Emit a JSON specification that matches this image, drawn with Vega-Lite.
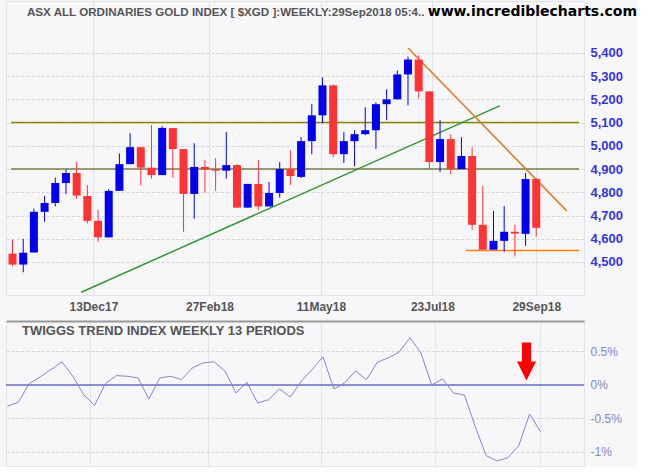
{
  "$schema": "https://vega.github.io/schema/vega-lite/v6.json",
  "background": "#f7f7f9",
  "padding": {"left": 4, "top": 0, "right": 0, "bottom": 0},
  "autosize": {"type": "pad"},
  "spacing": 7,
  "datasets": {
    "w": [
      {"d": "2017-10-21", "o": 4536, "h": 4596, "l": 4481, "c": 4489, "t": -0.32},
      {"d": "2017-10-28", "o": 4489, "h": 4600, "l": 4456, "c": 4540, "t": -0.255},
      {"d": "2017-11-04", "o": 4541, "h": 4729, "l": 4541, "c": 4716, "t": 0.02},
      {"d": "2017-11-11", "o": 4716, "h": 4784, "l": 4673, "c": 4754, "t": 0.12},
      {"d": "2017-11-18", "o": 4754, "h": 4863, "l": 4739, "c": 4840, "t": 0.23},
      {"d": "2017-11-25", "o": 4840, "h": 4897, "l": 4793, "c": 4883, "t": 0.345},
      {"d": "2017-12-02", "o": 4883, "h": 4930, "l": 4771, "c": 4786, "t": 0.13},
      {"d": "2017-12-09", "o": 4784, "h": 4831, "l": 4666, "c": 4677, "t": -0.145},
      {"d": "2017-12-16", "o": 4677, "h": 4724, "l": 4587, "c": 4606, "t": -0.305},
      {"d": "2017-12-23", "o": 4606, "h": 4814, "l": 4606, "c": 4806, "t": 0.02},
      {"d": "2017-12-30", "o": 4806, "h": 4967, "l": 4806, "c": 4921, "t": 0.14},
      {"d": "2018-01-06", "o": 4921, "h": 5054, "l": 4921, "c": 4994, "t": 0.13},
      {"d": "2018-01-13", "o": 4994, "h": 4994, "l": 4829, "c": 4906, "t": 0.105},
      {"d": "2018-01-20", "o": 4906, "h": 5089, "l": 4859, "c": 4874, "t": -0.21},
      {"d": "2018-01-27", "o": 4874, "h": 5084, "l": 4874, "c": 5077, "t": 0.105},
      {"d": "2018-02-03", "o": 5076, "h": 5076, "l": 4863, "c": 4986, "t": 0.13},
      {"d": "2018-02-10", "o": 4986, "h": 4986, "l": 4630, "c": 4793, "t": 0.08},
      {"d": "2018-02-17", "o": 4793, "h": 5011, "l": 4686, "c": 4909, "t": 0.255},
      {"d": "2018-02-24", "o": 4909, "h": 4940, "l": 4799, "c": 4899, "t": 0.33},
      {"d": "2018-03-03", "o": 4899, "h": 4947, "l": 4806, "c": 4893, "t": 0.345},
      {"d": "2018-03-10", "o": 4893, "h": 5059, "l": 4859, "c": 4917, "t": 0.205},
      {"d": "2018-03-17", "o": 4917, "h": 4921, "l": 4734, "c": 4734, "t": -0.12},
      {"d": "2018-03-24", "o": 4734, "h": 4836, "l": 4734, "c": 4836, "t": 0.04},
      {"d": "2018-03-31", "o": 4836, "h": 4939, "l": 4724, "c": 4739, "t": -0.27},
      {"d": "2018-04-07", "o": 4739, "h": 4844, "l": 4739, "c": 4797, "t": -0.22},
      {"d": "2018-04-14", "o": 4797, "h": 4930, "l": 4777, "c": 4900, "t": -0.06},
      {"d": "2018-04-21", "o": 4900, "h": 4981, "l": 4831, "c": 4870, "t": -0.18},
      {"d": "2018-04-28", "o": 4866, "h": 5037, "l": 4861, "c": 5020, "t": 0.055},
      {"d": "2018-05-05", "o": 5020, "h": 5179, "l": 4964, "c": 5131, "t": 0.23},
      {"d": "2018-05-12", "o": 5131, "h": 5294, "l": 5097, "c": 5260, "t": 0.42},
      {"d": "2018-05-19", "o": 5260, "h": 5264, "l": 4951, "c": 4964, "t": -0.06},
      {"d": "2018-05-26", "o": 4964, "h": 5059, "l": 4926, "c": 5020, "t": 0.03},
      {"d": "2018-06-02", "o": 5020, "h": 5067, "l": 4913, "c": 5050, "t": 0.21},
      {"d": "2018-06-09", "o": 5050, "h": 5166, "l": 5046, "c": 5067, "t": 0.08},
      {"d": "2018-06-16", "o": 5067, "h": 5187, "l": 4986, "c": 5179, "t": 0.34},
      {"d": "2018-06-23", "o": 5179, "h": 5243, "l": 5110, "c": 5200, "t": 0.405},
      {"d": "2018-06-30", "o": 5200, "h": 5324, "l": 5200, "c": 5307, "t": 0.49},
      {"d": "2018-07-07", "o": 5307, "h": 5384, "l": 5174, "c": 5371, "t": 0.705},
      {"d": "2018-07-14", "o": 5371, "h": 5389, "l": 5204, "c": 5234, "t": 0.48},
      {"d": "2018-07-21", "o": 5234, "h": 5234, "l": 4900, "c": 4930, "t": 0.0},
      {"d": "2018-07-28", "o": 4930, "h": 5110, "l": 4887, "c": 5029, "t": 0.09},
      {"d": "2018-08-04", "o": 5029, "h": 5050, "l": 4879, "c": 4900, "t": -0.12},
      {"d": "2018-08-11", "o": 4900, "h": 5037, "l": 4900, "c": 4956, "t": -0.15},
      {"d": "2018-08-18", "o": 4956, "h": 4994, "l": 4639, "c": 4660, "t": -0.62},
      {"d": "2018-08-25", "o": 4660, "h": 4827, "l": 4553, "c": 4553, "t": -1.055},
      {"d": "2018-09-01", "o": 4553, "h": 4720, "l": 4553, "c": 4591, "t": -1.135},
      {"d": "2018-09-08", "o": 4591, "h": 4741, "l": 4544, "c": 4630, "t": -1.085},
      {"d": "2018-09-15", "o": 4630, "h": 4660, "l": 4523, "c": 4622, "t": -0.905},
      {"d": "2018-09-22", "o": 4621, "h": 4883, "l": 4570, "c": 4857, "t": -0.435},
      {"d": "2018-09-29", "o": 4857, "h": 4861, "l": 4609, "c": 4647, "t": -0.695}
    ],
    "lines": [
      {"id": "level5100", "d1": "2017-10-20", "p1": 5100, "d2": "2018-10-27", "p2": 5100},
      {"id": "level4900", "d1": "2017-10-20", "p1": 4900, "d2": "2018-10-27", "p2": 4900},
      {"id": "uptrend", "d1": "2017-12-05", "p1": 4370, "d2": "2018-09-05", "p2": 5172},
      {"id": "downtrend", "d1": "2018-07-07", "p1": 5421, "d2": "2018-10-19", "p2": 4720},
      {"id": "support", "d1": "2018-08-14", "p1": 4550, "d2": "2018-10-27", "p2": 4550}
    ],
    "captions": [
      {"text": "ASX ALL ORDINARIES GOLD INDEX [ $XGD ]:WEEKLY:29Sep2018 05:4..", "d": "2017-10-20", "p": 5558},
      {"text": "www.incrediblecharts.com", "d": "2018-10-27", "p": 5558}
    ],
    "subcaption": [{"text": "TWIGGS TREND INDEX WEEKLY 13 PERIODS", "d": "2017-10-20", "v": 0.745}],
    "zero": [{"v": 0}],
    "signal": [{"d": "2018-09-20", "v": 0.35}]
  },
  "vconcat": [
    {
      "width": 578,
      "height": 294,
      "layer": [
        {
          "data": {"name": "lines"},
          "mark": {"type": "rule"},
          "encoding": {
            "x": {"field": "d1", "type": "temporal", "title": null,
                  "scale": {"type": "utc", "domain": [{"year": 2017, "month": 10, "date": 20, "utc": true}, {"year": 2018, "month": 10, "date": 27, "utc": true}]},
                  "axis": {"values": [{"year": 2017, "month": 12, "date": 13, "utc": true}, {"year": 2018, "month": 2, "date": 27, "utc": true}, {"year": 2018, "month": 5, "date": 11, "utc": true}, {"year": 2018, "month": 7, "date": 23, "utc": true}, {"year": 2018, "month": 9, "date": 29, "utc": true}],
                           "tickCount": 20, "format": "%d%b%y", "labelFont": "Liberation Sans", "labelFontSize": 12, "labelFontWeight": "bold", "labelColor": "#555555", "labelPadding": 6,
                           "grid": true, "gridColor": "#e3e3e8", "domain": false, "title": null}},
            "x2": {"field": "d2"},
            "y": {"field": "p1", "type": "quantitative", "title": null,
                  "scale": {"domain": [4358, 5623], "nice": false, "zero": false},
                  "axis": {"orient": "right", "values": [4500, 4600, 4700, 4800, 4900, 5000, 5100, 5200, 5300, 5400], "tickCount": 20, "format": ",d",
                           "labelFont": "Liberation Sans", "labelFontSize": 13, "labelFontWeight": "bold", "labelColor": "#3535d8", "labelPadding": 6,
                           "grid": true, "gridColor": "#d6d6da", "gridDash": [3, 2], "domain": false, "title": null}},
            "y2": {"field": "p2"},
            "color": {"field": "id", "type": "nominal", "legend": null,
                      "scale": {"domain": ["level5100", "level4900", "uptrend", "downtrend", "support"], "range": ["#8a8a00", "#7d7d45", "#2e9a2e", "#dd7a26", "#ff8000"]}},
            "strokeWidth": {"field": "id", "type": "nominal", "legend": null,
                      "scale": {"domain": ["level5100", "level4900", "uptrend", "downtrend", "support"], "range": [1.5, 1.5, 1, 1, 1.5]}}
          }
        },
        {
          "data": {"name": "w"},
          "mark": {"type": "rule", "strokeWidth": 1},
          "encoding": {
            "x": {"field": "d", "type": "temporal", "title": null},
            "y": {"field": "l", "type": "quantitative", "title": null},
            "y2": {"field": "h"},
            "color": {"condition": {"test": "datum.c >= datum.o", "value": "#0000ee"}, "value": "#ff3333"}
          }
        },
        {
          "data": {"name": "w"},
          "mark": {"type": "bar", "size": 8},
          "encoding": {
            "x": {"field": "d", "type": "temporal", "title": null},
            "y": {"field": "o", "type": "quantitative", "title": null},
            "y2": {"field": "c"},
            "color": {"condition": {"test": "datum.c >= datum.o", "value": "#0000ee"}, "value": "#ff3333"}
          }
        },
        {
          "data": {"name": "captions"},
          "transform": [{"filter": "indexof(datum.text, 'www') < 0"}],
          "mark": {"type": "text", "align": "left", "baseline": "alphabetic", "dx": 16, "font": "Liberation Sans", "fontSize": 11.6, "fontWeight": "bold", "color": "#555555"},
          "encoding": {
            "x": {"field": "d", "type": "temporal", "title": null},
            "y": {"field": "p", "type": "quantitative", "title": null},
            "text": {"field": "text"}
          }
        },
        {
          "data": {"name": "captions"},
          "transform": [{"filter": "indexof(datum.text, 'www') >= 0"}],
          "mark": {"type": "text", "align": "right", "baseline": "alphabetic", "dx": 58, "font": "DejaVu Sans", "fontSize": 14, "fontWeight": "bold", "color": "#000000"},
          "encoding": {
            "x": {"field": "d", "type": "temporal", "title": null},
            "y": {"field": "p", "type": "quantitative", "title": null},
            "text": {"field": "text"}
          }
        }
      ]
    },
    {
      "width": 578,
      "height": 145,
      "layer": [
        {
          "data": {"name": "zero"},
          "mark": {"type": "rule", "color": "#6e6ec2", "strokeWidth": 1.5},
          "encoding": {
            "y": {"field": "v", "type": "quantitative", "title": null}
          }
        },
        {
          "data": {"name": "w"},
          "mark": {"type": "line", "color": "#8585cc", "strokeWidth": 1},
          "encoding": {
            "x": {"field": "d", "type": "temporal", "title": null,
                  "scale": {"type": "utc", "domain": [{"year": 2017, "month": 10, "date": 20, "utc": true}, {"year": 2018, "month": 10, "date": 27, "utc": true}]},
                  "axis": {"orient": "top", "values": [{"year": 2017, "month": 12, "date": 13, "utc": true}, {"year": 2018, "month": 2, "date": 27, "utc": true}, {"year": 2018, "month": 5, "date": 11, "utc": true}, {"year": 2018, "month": 7, "date": 23, "utc": true}, {"year": 2018, "month": 9, "date": 29, "utc": true}],
                           "tickCount": 20, "labels": false, "domain": true, "domainColor": "#999999", "domainWidth": 2,
                           "grid": true, "gridColor": "#e3e3e8", "title": null}},
            "y": {"field": "t", "type": "quantitative", "title": null,
                  "scale": {"domain": [-1.21, 0.955], "nice": false, "zero": false},
                  "axis": {"orient": "right", "values": [0.5, 0, -0.5, -1], "tickCount": 20,
                           "labelExpr": "(datum.value < 0 ? '-' : '') + abs(datum.value) + '%'",
                           "labelFont": "Liberation Sans", "labelFontSize": 12, "labelColor": "#8585c5", "labelPadding": 6,
                           "grid": true, "gridColor": "#d6d6da", "gridDash": [3, 2], "domain": false, "title": null}}
          }
        },
        {
          "data": {"name": "signal"},
          "mark": {"type": "point", "shape": "M-0.24,-1L0.24,-1L0.24,0L0.5,0L0,1L-0.5,0L-0.24,0Z", "size": 1444, "filled": true, "color": "#ff0000", "opacity": 1, "strokeWidth": 0},
          "encoding": {
            "x": {"field": "d", "type": "temporal", "title": null},
            "y": {"field": "v", "type": "quantitative", "title": null}
          }
        },
        {
          "data": {"name": "subcaption"},
          "mark": {"type": "text", "align": "left", "baseline": "alphabetic", "dx": 16, "font": "Liberation Sans", "fontSize": 13, "fontWeight": "bold", "color": "#555555"},
          "encoding": {
            "x": {"field": "d", "type": "temporal", "title": null},
            "y": {"field": "v", "type": "quantitative", "title": null},
            "text": {"field": "text"}
          }
        }
      ]
    }
  ],
  "config": {
    "view": {"stroke": "#e3e3e8"},
    "axis": {"ticks": false, "labelOverlap": false, "labelFlush": false, "labelBound": false}
  }
}
